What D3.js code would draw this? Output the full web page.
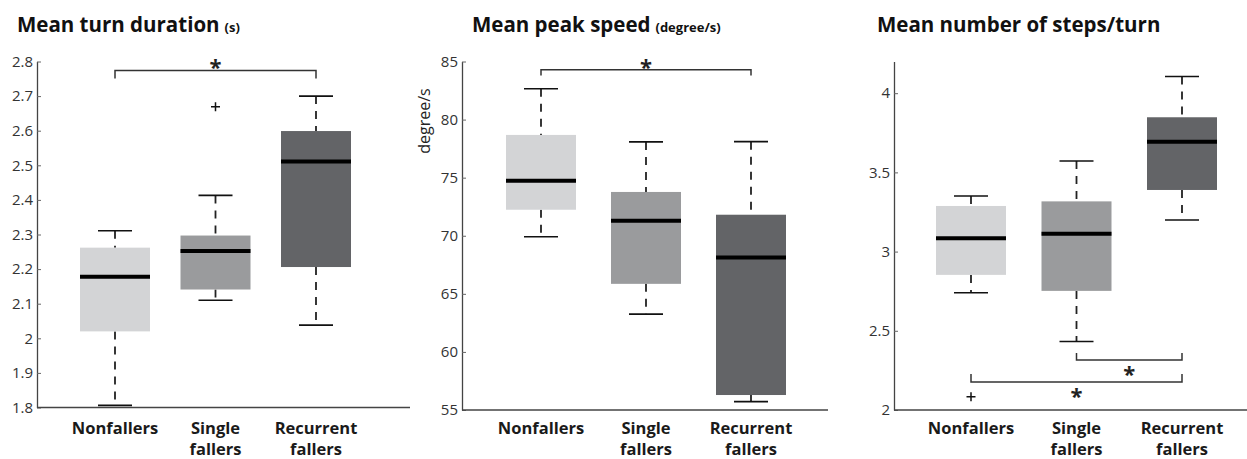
<!DOCTYPE html>
<html>
<head>
<meta charset="utf-8">
<script src="https://cdn.jsdelivr.net/npm/d3@7"></script>
<style>
  html, body { margin: 0; padding: 0; background: #fff; }
  svg { display: block; }
  text { font-family: "Open Sans", "Liberation Sans", sans-serif; }
</style>
</head>
<body>
<svg id="chart" width="1247" height="459"></svg>
<script>
// ---------- data ----------
const categories = ["Nonfallers", "Single fallers", "Recurrent fallers"];
const categoryLines = [["Nonfallers"], ["Single", "fallers"], ["Recurrent", "fallers"]];
const boxColors = ["#d3d4d6", "#9a9b9d", "#636467"];

// Panel 1: Mean turn duration (s)
const durTitle = "Mean turn duration";
const durUnit = "(s)";
const durLow = [1.806, 2.110, 2.038];
const durQ1 = [2.020, 2.141, 2.206];
const durMedian = [2.178, 2.252, 2.511];
const durQ3 = [2.262, 2.297, 2.599];
const durHigh = [2.311, 2.413, 2.700];
const durOutliers = [[], [2.669], []];
const durTicks = [1.8, 1.9, 2.0, 2.1, 2.2, 2.3, 2.4, 2.5, 2.6, 2.7, 2.8];
const durTickLabels = ["1.8", "1.9", "2", "2.1", "2.2", "2.3", "2.4", "2.5", "2.6", "2.7", "2.8"];
const durDomain = [1.8, 2.8];
const durSig = [{ from: 0, to: 2, level: 2.774, tipLevel: 2.751 }];

// Panel 2: Mean peak speed (degree/s)
const spdTitle = "Mean peak speed";
const spdUnit = "(degree/s)";
const spdAxisLabel = "degree/s";
const spdLow = [69.91, 63.25, 55.72];
const spdQ1 = [72.24, 65.86, 56.29];
const spdMedian = [74.74, 71.29, 68.13];
const spdQ3 = [78.68, 73.77, 71.81];
const spdHigh = [82.65, 78.08, 78.10];
const spdOutliers = [[], [], []];
const spdTicks = [55, 60, 65, 70, 75, 80, 85];
const spdTickLabels = ["55", "60", "65", "70", "75", "80", "85"];
const spdDomain = [55, 85];
const spdSig = [{ from: 0, to: 2, level: 84.3, tipLevel: 83.8 }];

// Panel 3: Mean number of steps/turn
const stpTitle = "Mean number of steps/turn";
const stpUnit = "";
const stpLow = [2.740, 2.432, 3.199];
const stpQ1 = [2.853, 2.752, 3.389];
const stpMedian = [3.085, 3.112, 3.694];
const stpQ3 = [3.288, 3.317, 3.848];
const stpHigh = [3.351, 3.572, 4.105];
const stpOutliers = [[2.084], [], []];
const stpTicks = [2, 2.5, 3, 3.5, 4];
const stpTickLabels = ["2", "2.5", "3", "3.5", "4"];
const stpDomain = [2, 4.2];
const stpSig = [
  { from: 1, to: 2, level: 2.316, tipLevel: 2.360, below: true },
  { from: 0, to: 2, level: 2.177, tipLevel: 2.228, below: true }
];

// ---------- layout ----------
const svg = d3.select("#chart");
const yTop = 61.5;

const panels = [
  { title: durTitle, unit: durUnit, low: durLow, q1: durQ1, med: durMedian, q3: durQ3, high: durHigh,
    outliers: durOutliers, ticks: durTicks, tickLabels: durTickLabels, domain: durDomain, sig: durSig,
    axisX: 37, rightX: 410, c0: 115, c2: 316, yBot: 407.5, titleX: 17, axisLabel: null },
  { title: spdTitle, unit: spdUnit, low: spdLow, q1: spdQ1, med: spdMedian, q3: spdQ3, high: spdHigh,
    outliers: spdOutliers, ticks: spdTicks, tickLabels: spdTickLabels, domain: spdDomain, sig: spdSig,
    axisX: 462, rightX: 828, c0: 541, c2: 751, yBot: 410, titleX: 472, axisLabel: spdAxisLabel },
  { title: stpTitle, unit: stpUnit, low: stpLow, q1: stpQ1, med: stpMedian, q3: stpQ3, high: stpHigh,
    outliers: stpOutliers, ticks: stpTicks, tickLabels: stpTickLabels, domain: stpDomain, sig: stpSig,
    axisX: 894, rightX: 1247, c0: 971, c2: 1182, yBot: 410, titleX: 877, axisLabel: null }
];

const boxW = 70, capW = 34;

panels.forEach(p => {
  const g = svg.append("g");
  const y = d3.scaleLinear().domain(p.domain).range([p.yBot, yTop]);
  const x = d3.scalePoint().domain(categories).range([p.c0, p.c2]);

  // title
  const t = g.append("text").attr("x", p.titleX).attr("y", 32)
    .attr("font-weight", 700).attr("font-size", 20.5).attr("fill", "#111");
  t.append("tspan").text(p.title);
  if (p.unit) t.append("tspan").attr("font-size", 13).attr("dx", 5).text(p.unit);

  // y axis
  const yAxis = d3.axisLeft(y).tickValues(p.ticks)
    .tickFormat((d, i) => p.tickLabels[i]).tickSizeInner(-4).tickSizeOuter(0).tickPadding(8);
  const ag = g.append("g").attr("transform", `translate(${p.axisX},0)`).call(yAxis);
  ag.select(".domain").attr("stroke", "#444").attr("stroke-width", 1.3);
  ag.selectAll(".tick line").attr("stroke", "#666").attr("stroke-width", 1);
  ag.selectAll(".tick text").attr("font-size", 15).attr("fill", "#333")
    .attr("font-family", '"Open Sans", sans-serif').attr("x", -4);

  // bottom axis line
  g.append("line").attr("x1", p.axisX).attr("x2", p.rightX)
    .attr("y1", p.yBot).attr("y2", p.yBot).attr("stroke", "#444").attr("stroke-width", 1.3);

  if (p.axisLabel) {
    g.append("text").attr("transform", `translate(${p.axisX - 32},${121}) rotate(-90)`)
      .attr("text-anchor", "middle").attr("font-size", 16).attr("fill", "#222").text(p.axisLabel);
  }

  // category labels
  categories.forEach((c, i) => {
    const lt = g.append("text").attr("x", x(c)).attr("y", 434)
      .attr("text-anchor", "middle").attr("font-weight", 700).attr("font-size", 16.5).attr("fill", "#1a1a1a");
    categoryLines[i].forEach((line, j) => {
      lt.append("tspan").attr("x", x(c)).attr("dy", j === 0 ? 0 : 21).text(line);
    });
  });

  // boxes
  categories.forEach((c, i) => {
    const cx = x(c);
    // whiskers (dashed)
    g.append("line").attr("x1", cx).attr("x2", cx).attr("y1", y(p.high[i])).attr("y2", y(p.q3[i]))
      .attr("stroke", "#222").attr("stroke-width", 1.8).attr("stroke-dasharray", "8,7");
    g.append("line").attr("x1", cx).attr("x2", cx).attr("y1", y(p.q1[i])).attr("y2", y(p.low[i]))
      .attr("stroke", "#222").attr("stroke-width", 1.8).attr("stroke-dasharray", "8,7");
    // caps
    [p.high[i], p.low[i]].forEach(v => {
      g.append("line").attr("x1", cx - capW / 2).attr("x2", cx + capW / 2)
        .attr("y1", y(v)).attr("y2", y(v)).attr("stroke", "#111").attr("stroke-width", 1.6);
    });
    // box
    g.append("rect").attr("x", cx - boxW / 2).attr("width", boxW)
      .attr("y", y(p.q3[i])).attr("height", y(p.q1[i]) - y(p.q3[i]))
      .attr("fill", boxColors[i]);
    // median
    g.append("line").attr("x1", cx - boxW / 2).attr("x2", cx + boxW / 2)
      .attr("y1", y(p.med[i])).attr("y2", y(p.med[i])).attr("stroke", "#000").attr("stroke-width", 4);
    // outliers
    p.outliers[i].forEach(v => {
      g.append("path").attr("d", `M${cx - 4.5},${y(v)}H${cx + 4.5}M${cx},${y(v) - 4.5}V${y(v) + 4.5}`)
        .attr("stroke", "#111").attr("stroke-width", 1.5).attr("fill", "none");
    });
  });

  // significance brackets
  p.sig.forEach(s => {
    const x1 = x(categories[s.from]), x2 = x(categories[s.to]);
    const yl = y(s.level), yt = y(s.tipLevel);
    g.append("path").attr("d", `M${x1},${yt}V${yl}H${x2}V${yt}`)
      .attr("fill", "none").attr("stroke", "#333").attr("stroke-width", 1.5);
    const ax = (x1 + x2) / 2;
    g.append("text").attr("x", ax).attr("y", s.below ? yl + 22 : yl + 5)
      .attr("text-anchor", "middle").attr("font-weight", 700).attr("font-size", 22).attr("fill", "#222").text("*");
  });
});
</script>
</body>
</html>
